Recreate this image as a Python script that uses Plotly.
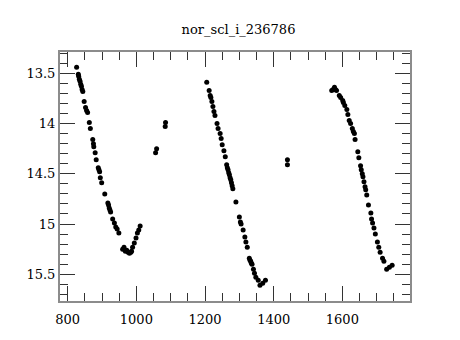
import plotly.graph_objects as go

# cycle 1
x1 = [826, 831, 832, 834, 836, 838, 840, 842, 844, 848, 852, 855, 858, 863, 866,
      873, 875, 876, 880, 883, 889, 891, 893, 895, 899, 908, 917, 919, 921, 923, 925,
      931, 936, 940, 944, 949, 960, 964, 968, 972, 976, 980, 984, 986,
      989, 994, 999, 1003, 1007, 1011, 1056, 1059, 1084, 1085]
y1 = [13.44, 13.51, 13.53, 13.56, 13.58, 13.61, 13.63, 13.66, 13.68, 13.78, 13.84, 13.87, 13.89, 13.99, 14.05,
      14.16, 14.20, 14.23, 14.29, 14.36, 14.44, 14.46, 14.48, 14.54, 14.59, 14.70, 14.79, 14.81, 14.84, 14.86, 14.88,
      14.95, 14.99, 15.03, 15.05, 15.09, 15.25, 15.23, 15.27, 15.26, 15.28, 15.29, 15.28, 15.27,
      15.23, 15.19, 15.14, 15.09, 15.06, 15.02, 14.29, 14.25, 14.03, 13.99]
# cycle 2
x2 = [1205, 1212, 1215, 1217, 1220, 1223, 1226, 1229, 1235, 1238, 1244, 1247, 1250, 1255, 1259,
      1263, 1265, 1267, 1269, 1271, 1273, 1275, 1277, 1279, 1281, 1290, 1300, 1303, 1305, 1311,
      1316, 1319, 1323, 1329, 1331, 1333, 1335, 1337, 1341, 1344, 1348, 1355, 1360, 1368, 1376, 1440, 1440]
y2 = [13.59, 13.67, 13.72, 13.74, 13.78, 13.83, 13.88, 13.92, 14.00, 14.05, 14.10, 14.15, 14.21, 14.27, 14.33,
      14.41, 14.44, 14.46, 14.49, 14.51, 14.54, 14.56, 14.59, 14.62, 14.65, 14.78, 14.93, 14.98, 15.00, 15.06,
      15.13, 15.18, 15.23, 15.34, 15.36, 15.37, 15.39, 15.40, 15.45, 15.49, 15.53, 15.56, 15.61, 15.59, 15.56, 14.36, 14.41]
# cycle 3
x3 = [1569, 1573, 1577, 1580, 1583, 1591, 1595, 1601, 1603, 1607, 1613, 1616, 1620, 1624, 1629, 1632, 1635,
      1637, 1645, 1648, 1653, 1655, 1658, 1660, 1663, 1666, 1668, 1671, 1676, 1683, 1685, 1688, 1692, 1696,
      1702, 1706, 1710, 1717, 1721, 1729, 1737, 1745]
y3 = [13.67, 13.66, 13.64, 13.66, 13.67, 13.72, 13.74, 13.77, 13.79, 13.82, 13.86, 13.91, 13.97, 14.00, 14.05, 14.08, 14.10,
      14.16, 14.28, 14.34, 14.42, 14.46, 14.50, 14.53, 14.58, 14.63, 14.66, 14.71, 14.81, 14.89, 14.95, 14.99, 15.04, 15.10,
      15.18, 15.23, 15.28, 15.34, 15.37, 15.45, 15.43, 15.41]

title = "nor_scl_i_236786"
xticks = [800, 1000, 1200, 1400, 1600]
yticks = [13.5, 14, 14.5, 15, 15.5]

xs = x1 + x2 + x3
ys = y1 + y2 + y3

fig = go.Figure(go.Scatter(x=xs, y=ys, mode="markers",
                           marker=dict(color="black", size=5), showlegend=False))

font = dict(family="DejaVu Serif", size=13, color="black")
axis_common = dict(showgrid=False, zeroline=False, showline=True, linecolor="#8c8c8c",
                   linewidth=2, mirror="allticks", ticks="inside", tickcolor="#333333",
                   tickwidth=1, ticklen=15, tickfont=font)
fig.update_xaxes(range=[777.6, 1797], tickvals=xticks, ticktext=[str(v) for v in xticks],
                 ticklabelstandoff=5,
                 minor=dict(ticks="inside", dtick=50, tick0=0, ticklen=8, tickcolor="#333333", tickwidth=1),
                 **axis_common)
fig.update_yaxes(range=[15.766, 13.288], tickvals=yticks, ticktext=[f"{v:g}" for v in yticks],
                 minor=dict(ticks="inside", dtick=0.1, tick0=0, ticklen=8, tickcolor="#333333", tickwidth=1),
                 **axis_common)
fig.update_layout(width=452, height=332, margin=dict(l=52, r=50, t=44, b=39),
                  paper_bgcolor="white", plot_bgcolor="white",
                  title=dict(text=title, x=0.51, xanchor="center", y=0.934, yanchor="middle",
                             font=dict(family="DejaVu Serif", size=13, color="black")))
fig.write_html("out.html")
